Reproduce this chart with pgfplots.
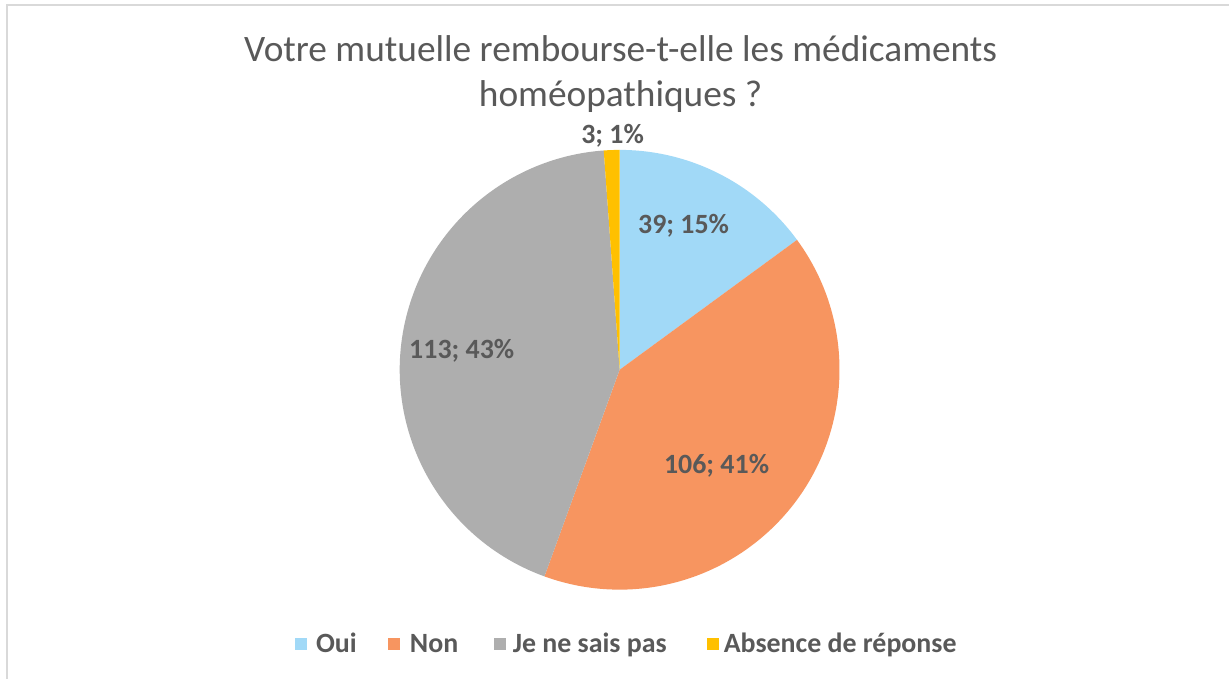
\documentclass[border=0pt]{standalone}
\usepackage{pgfplots}
\pgfplotsset{compat=1.18}
\usepackage{fontspec}
\setmainfont{Carlito}
\definecolor{cOui}{HTML}{A1D9F7}
\definecolor{cNon}{HTML}{F79560}
\definecolor{cJsp}{HTML}{AEAEAE}
\definecolor{cAbs}{HTML}{FFC000}
\definecolor{txt}{HTML}{595959}
\definecolor{frame}{HTML}{D9D9D9}
\begin{document}
\begin{tikzpicture}
\begin{axis}[
  width=1230bp, height=679bp, scale only axis,
  xmin=0, xmax=1230, ymin=0, ymax=679,
  hide axis, clip=false,
]
% background and frame
\fill[white] (axis cs:0,0) rectangle (axis cs:1230,679);
\draw[frame, line width=1.5bp] (axis cs:7,0) -- (axis cs:7,674) -- (axis cs:1230,674);
% pie: values 39, 106, 113, 3 (total 261), clockwise from 90 deg
\def\total{261}
\def\cx{620}\def\cy{309}\def\r{220}
\def\startang{90}
\foreach \v/\c in {39/cOui,106/cNon,113/cJsp,3/cAbs}{
  \pgfmathsetmacro{\endang}{\startang-\v/\total*360}
  \edef\temp{\noexpand\fill[\c] (axis cs:\cx,\cy) -- ++(\startang:\r bp) arc[start angle=\startang, end angle=\endang, radius=\r bp] -- cycle;}
  \temp
  \global\let\startang\endang
}
% labels
\tikzset{lbl/.style={text=txt, font=\fontsize{28}{32}\selectfont\bfseries}}
\node[lbl] at (axis cs:684,453) {39; 15\%};
\node[lbl] at (axis cs:717,213) {106; 41\%};
\node[lbl] at (axis cs:462,328) {113; 43\%};
\node[lbl] at (axis cs:613,543) {3; 1\%};
% title
\node[text=txt, font=\fontsize{37.5}{44}\selectfont, anchor=base] at (axis cs:621,617) {Votre mutuelle rembourse-t-elle les médicaments};
\node[text=txt, font=\fontsize{37.5}{44}\selectfont, anchor=base] at (axis cs:621,572) {homéopathiques ?};
% legend
\tikzset{leg/.style={text=txt, font=\fontsize{28}{32}\selectfont\bfseries, anchor=base west, inner sep=0pt}}
\fill[cOui] (axis cs:295,29) rectangle (axis cs:307,41);
\node[leg] at (axis cs:316,26) {Oui};
\fill[cNon] (axis cs:388,29) rectangle (axis cs:400,41);
\node[leg] at (axis cs:410,26) {Non};
\fill[cJsp] (axis cs:494,29) rectangle (axis cs:506,41);
\node[leg] at (axis cs:513,26) {Je ne sais pas};
\fill[cAbs] (axis cs:707,29) rectangle (axis cs:719,41);
\node[leg] at (axis cs:724,26) {Absence de réponse};
\end{axis}
\end{tikzpicture}
\end{document}
